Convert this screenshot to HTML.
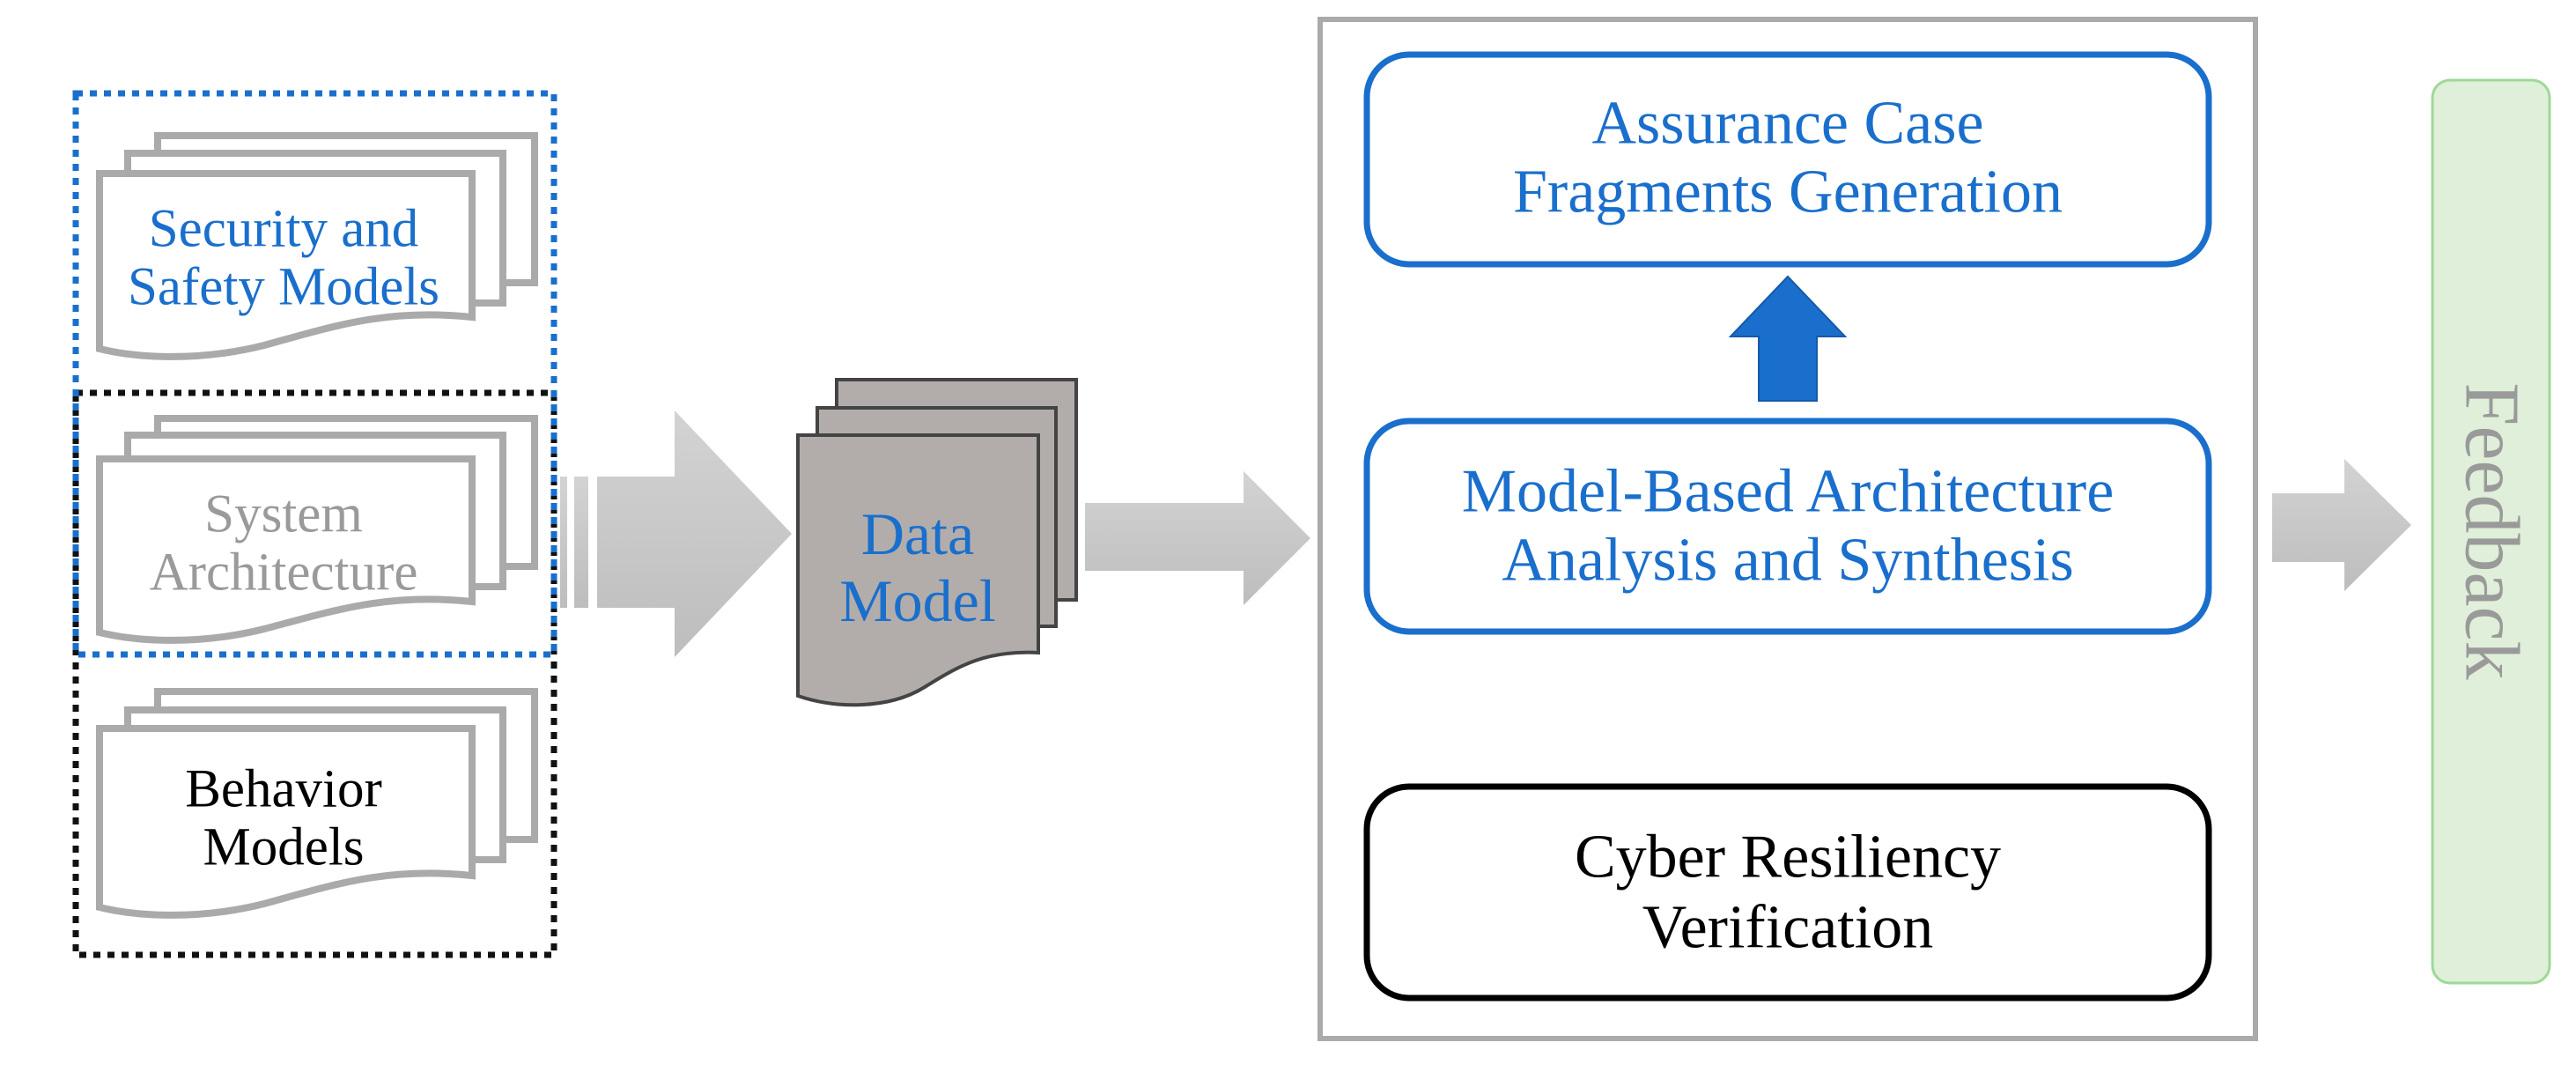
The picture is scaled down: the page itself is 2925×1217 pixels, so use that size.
<!DOCTYPE html>
<html><head><meta charset="utf-8"><style>
html,body{margin:0;padding:0;background:#fff;}
svg{display:block;}
text{font-family:"Liberation Serif",serif;}
</style></head><body>
<svg width="2925" height="1217" viewBox="0 0 2925 1217" xmlns="http://www.w3.org/2000/svg">
<defs>
<linearGradient id="ag" x1="0" y1="0" x2="0" y2="1"><stop offset="0" stop-color="#d3d3d3"/><stop offset="1" stop-color="#bdbdbd"/></linearGradient>
</defs>

<g fill="#fff" stroke="#aaa" stroke-width="8">
<rect x="179" y="154" width="428" height="167"/>
<rect x="145" y="174" width="426" height="170"/>
<path d="M113,197 H536 V360 C440,350 380,370 300,392 C220,412 150,405 113,396 Z"/>
<rect x="179" y="475" width="428" height="168"/>
<rect x="145" y="494" width="426" height="172"/>
<path d="M113,521 H536 V683 C440,673 380,693 300,714 C220,734 150,727 113,718 Z"/>
<rect x="179" y="785" width="428" height="168"/>
<rect x="145" y="806" width="426" height="170"/>
<path d="M113,827 H536 V994 C440,984 380,1004 300,1026 C220,1046 150,1039 113,1030 Z"/>
</g>

<rect x="86" y="446" width="543" height="638" fill="none" stroke="#111" stroke-width="7" stroke-dasharray="8,8"/>
<rect x="86" y="106" width="543" height="637" fill="none" stroke="#1a6fcc" stroke-width="7" stroke-dasharray="8,8"/>

<g text-anchor="middle" font-size="61" dominant-baseline="central">
<text x="322" y="260" fill="#1a6fcc">Security and</text>
<text x="322" y="326" fill="#1a6fcc">Safety Models</text>
<text x="322" y="584" fill="#9a9a9a">System</text>
<text x="322" y="650" fill="#9a9a9a">Architecture</text>
<text x="322" y="896" fill="#000">Behavior</text>
<text x="322" y="962" fill="#000">Models</text>
</g>

<g fill="url(#ag)">
<rect x="636" y="541" width="8" height="149"/>
<rect x="652" y="541" width="16" height="149"/>
<path d="M678,541 H766 V466 L899,606 L766,746 V690 H678 Z"/>
</g>

<g fill="#b2adab" stroke="#444" stroke-width="4">
<rect x="950" y="431" width="272" height="250"/>
<rect x="928" y="463" width="271" height="248"/>
<path d="M906,494 H1179 V741 C1120,738 1090,755 1050,780 C1010,805 950,805 906,790 Z"/>
</g>
<text x="1042" y="606" text-anchor="middle" dominant-baseline="central" font-size="68" fill="#1a6fcc">Data</text>
<text x="1042" y="682" text-anchor="middle" dominant-baseline="central" font-size="68" fill="#1a6fcc">Model</text>

<path d="M1232,571 H1412 V535 L1488,611 L1412,687 V648 H1232 Z" fill="url(#ag)"/>

<rect x="1499" y="22" width="1062" height="1157" fill="#fff" stroke="#aaa" stroke-width="6"/>

<rect x="1552" y="62" width="956" height="238" rx="48" fill="#fff" stroke="#1a6fcc" stroke-width="7"/>
<rect x="1552" y="478" width="956" height="239" rx="48" fill="#fff" stroke="#1a6fcc" stroke-width="7"/>
<rect x="1552" y="893" width="956" height="240" rx="48" fill="#fff" stroke="#000" stroke-width="7"/>

<g text-anchor="middle" font-size="70" dominant-baseline="central">
<text x="2030" y="140" fill="#1a6fcc">Assurance Case</text>
<text x="2030" y="218" fill="#1a6fcc">Fragments Generation</text>
<text x="2030" y="558" fill="#1a6fcc">Model-Based Architecture</text>
<text x="2030" y="636" fill="#1a6fcc">Analysis and Synthesis</text>
<text x="2030" y="973" fill="#000">Cyber Resiliency</text>
<text x="2030" y="1053" fill="#000">Verification</text>
</g>

<path d="M2030,314 L2095,382 H2063 V455 H1997 V382 H1965 Z" fill="#1a6fcc" stroke="#155aa8" stroke-width="2"/>

<path d="M2580,560 H2662 V521 L2738,596 L2662,671 V638 H2580 Z" fill="url(#ag)"/>

<rect x="2762" y="91" width="133" height="1025" rx="20" fill="#dfefd9" stroke="#9ed898" stroke-width="3"/>
<text x="0" y="0" transform="translate(2829,603) rotate(90)" text-anchor="middle" dominant-baseline="central" font-size="88" fill="#9a9a9a">Feedback</text>
</svg>
</body></html>
